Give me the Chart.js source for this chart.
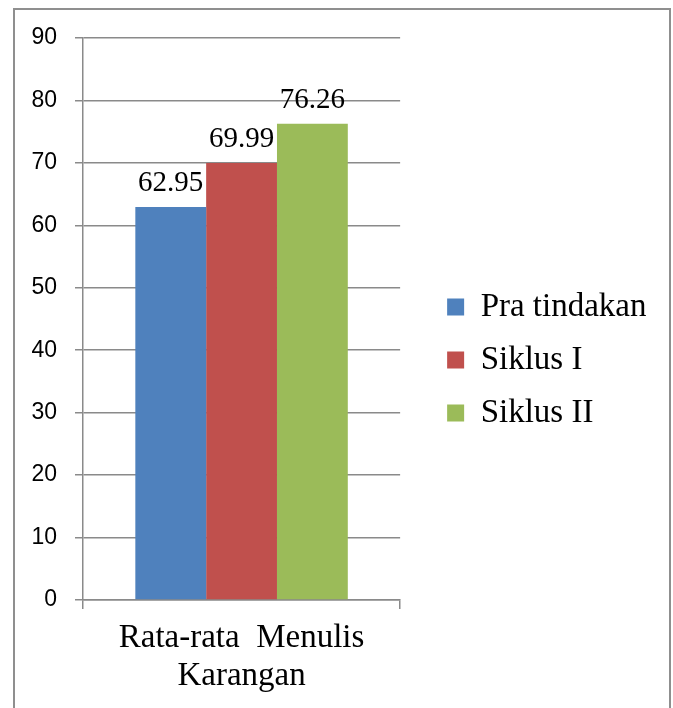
<!DOCTYPE html>
<html>
<head>
<meta charset="utf-8">
<script src="https://cdn.jsdelivr.net/npm/chart.js@4"></script>
<style>
  html, body { margin: 0; padding: 0; background: #fff; }
  #wrap { position: relative; width: 673px; height: 708px; overflow: hidden; }
  #frame { position: absolute; left: 13px; top: 8px; width: 654px; height: 740px; border: 2px solid #8f8f8f; pointer-events: none; }
  canvas { position: absolute; left: 0; top: 0; }
</style>
</head>
<body>
<div id="wrap">
  <canvas id="chart" width="673" height="708"></canvas>
  <div id="frame"></div>
</div>
<script>
// --- Datos ---
const categories = [["Rata-rata  Menulis", "Karangan"]];
const seriesNames = ["Pra tindakan", "Siklus I", "Siklus II"];
const praTindakan = [62.95];
const siklusI = [69.99];
const siklusII = [76.26];
const seriesColors = ["#4F81BD", "#C0504D", "#9BBB59"];
const yMin = 0, yMax = 90, yStep = 10;

const gridColor = "#8a8a8a";
const serif = "'Liberation Serif', 'Times New Roman', serif";

// --- Etiquetas de valor sobre las barras ---
const valueLabels = {
  id: "valueLabels",
  afterDatasetsDraw(chart) {
    const ctx = chart.ctx;
    ctx.save();
    ctx.font = "29px " + serif;
    ctx.fillStyle = "#000";
    ctx.textAlign = "center";
    ctx.textBaseline = "alphabetic";
    chart.data.datasets.forEach((ds, i) => {
      chart.getDatasetMeta(i).data.forEach((bar, j) => {
        ctx.fillText(ds.data[j].toFixed(2), bar.x, bar.y - 16);
      });
    });
    ctx.restore();
  }
};

const seriesData = [praTindakan, siklusI, siklusII];

new Chart(document.getElementById("chart"), {
  type: "bar",
  data: {
    labels: categories,
    datasets: seriesNames.map((name, i) => ({
      label: name,
      data: seriesData[i],
      backgroundColor: seriesColors[i],
      borderWidth: 0,
      categoryPercentage: 0.67,
      barPercentage: 1
    }))
  },
  options: {
    responsive: false,
    animation: false,
    layout: { padding: { left: 32, top: 12, right: 16.5, bottom: 0 } },
    plugins: {
      tooltip: { enabled: false },
      // espacio vacio arriba del area del grafico (no afecta la leyenda)
      title: {
        display: true,
        text: "",
        fullSize: false,
        font: { size: 1, lineHeight: 0 },
        padding: { top: 26, bottom: 0 }
      },
      legend: {
        position: "right",
        maxWidth: 300,
        labels: {
          boxWidth: 17,
          boxHeight: 17,
          padding: 20,
          color: "#000",
          font: { family: serif, size: 33 }
        }
      }
    },
    scales: {
      x: {
        grid: { offset: true, drawOnChartArea: false, color: gridColor, tickLength: 9, lineWidth: 1.5 },
        border: { color: gridColor, width: 1.5 },
        ticks: { color: "#000", font: { family: serif, size: 33, lineHeight: 1.15 }, padding: 10 },
        afterFit(s) { s.height = 108; }
      },
      y: {
        min: yMin,
        max: yMax,
        ticks: { stepSize: yStep, color: "#000", font: { family: "'Liberation Sans', Arial, sans-serif", size: 23 }, padding: 18 },
        grid: { color: gridColor, tickLength: 8, lineWidth: 1.5 },
        border: { color: gridColor, width: 1.5 },
        afterFit(s) { s.width = 51; }
      },
      gap: {
        type: "linear",
        position: "right",
        grid: { display: false },
        border: { display: false },
        ticks: { display: false },
        afterFit(s) { s.width = 27; }
      }
    }
  },
  plugins: [valueLabels]
});
</script>
</body>
</html>
